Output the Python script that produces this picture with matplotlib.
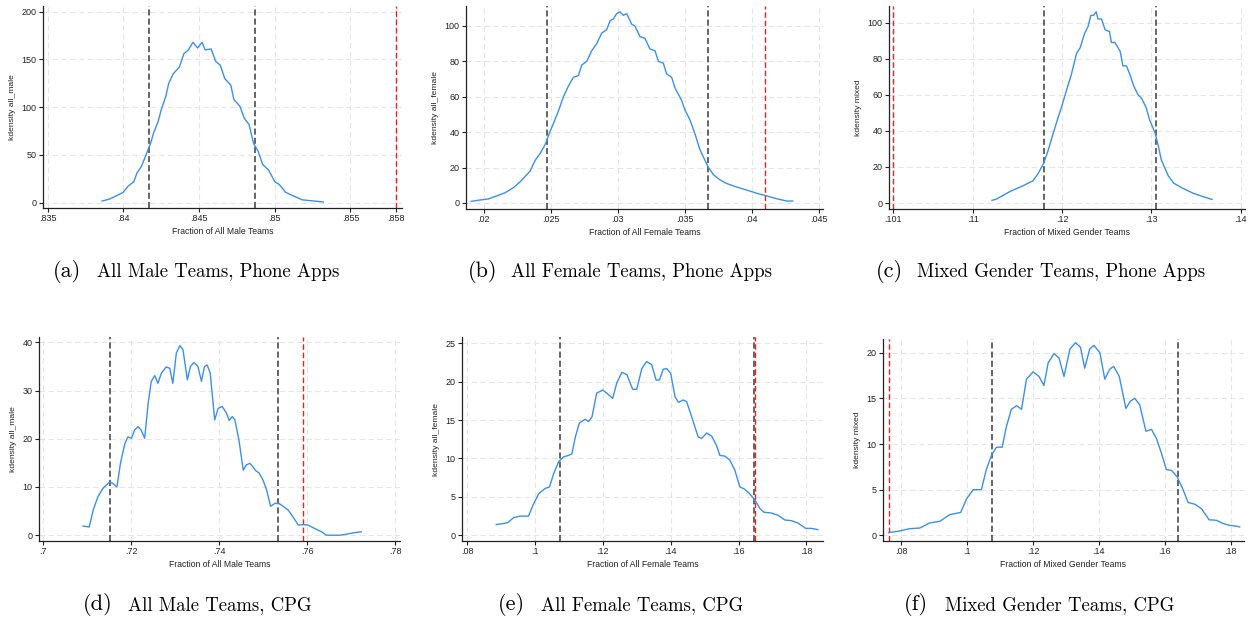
import numpy as np
import matplotlib.pyplot as plt

# kdensity curves
a_x = [.8386, .8391, .8397, .8400, .8403, .8407, .8409, .8412, .8416, .8418, .8420, .8423, .8425, .8428, .8430,
       .8433, .8437, .8440, .8443, .8446, .8449, .8452, .8454, .8458, .8461, .8464, .8467, .8471, .8473, .8477,
       .8480, .8483, .8486, .8489, .8492, .8496, .8500, .8503, .8507, .8511, .8518, .8524, .8532]
a_y = [1.7, 3.8, 8.4, 10.8, 17, 22, 31, 38, 54, 62, 73, 85, 97, 111, 125,
       135, 142, 156, 160, 168, 162, 168, 160, 161, 148, 144, 130, 123, 108, 101,
       88, 82, 62, 54, 40, 34, 22, 19, 11, 8, 3, 2, 0.7]

b_x = [.01908, .01975, .02037, .02099, .02161, .02223, .02273, .02347, .02384, .02421,
       .02459, .02483, .02521, .02558, .02595, .02632, .02669, .02707, .02732, .02769,
       .02806, .02843, .02881, .02918, .02943, .02968, .02992, .03017, .03042, .03067,
       .03104, .03128, .03166, .03203, .03240, .03278, .03303, .03340, .03364, .03402,
       .03427, .03476, .03501, .03538, .03576, .03613, .03651, .03676, .03713, .03763,
       .03812, .03887, .03961, .04036, .04110, .04185, .04259, .04304]
b_y = [0.9, 1.7, 2.3, 4, 5.8, 8.7, 12, 18, 24, 28,
       33, 38, 45, 52, 60, 66, 71, 72, 78, 80,
       86, 90, 96, 98, 103, 104, 107, 108, 106, 107,
       101, 100, 94, 93, 87, 86, 80, 79, 73, 71,
       65, 58, 52.5, 47, 39, 30, 24, 20, 16, 13,
       11, 9, 7.3, 5.5, 4, 2.4, 1.1, 1.1]

c_x = [.1121, .1126, .1134, .1141, .1149, .1156, .1164, .1167, .1173, .1179,
       .1184, .1190, .1195, .1199, .1205, .1210, .1216, .1220, .1225, .1229,
       .1232, .1235, .1238, .1240, .1244, .1248, .1253, .1255, .1259, .1265,
       .1268, .1272, .1276, .1280, .1285, .1289, .1294, .1298, .1304, .1308,
       .1311, .1319, .1325, .1336, .1347, .1358, .1368]
c_y = [1.5, 2.2, 4.4, 6.3, 8.1, 9.6, 11.6, 12.2, 16.5, 22,
       29, 39, 47, 53, 63, 71, 83, 86, 94, 98,
       104, 104, 106, 102, 102, 96, 95, 89, 89, 84,
       76, 76, 71, 65, 60, 58, 53, 46, 39, 31,
       24, 15, 11, 8, 5.4, 3.5, 2]

d_x = [.7091, .7105, .7114, .7125, .7136, .7152, .7159, .7168, .7176, .7186,
       .7193, .7201, .7208, .7216, .7223, .7231, .7239, .7246, .7254, .7261,
       .7269, .7280, .7288, .7295, .7303, .7311, .7318, .7328, .7335, .7343,
       .7352, .7360, .7367, .7373, .7380, .7390, .7398, .7407, .7417, .7423,
       .7430, .7436, .7445, .7455, .7462, .7470, .7477, .7483, .7491, .7500,
       .7508, .7517, .7527, .7536, .7547, .7557, .7568, .7580, .7591, .7602,
       .7617, .7633, .7644, .7659, .7674, .7689, .7705, .7723]
d_y = [1.9, 1.7, 5.2, 8, 9.7, 11.1, 10.7, 10, 14.9, 19,
       20.4, 20.1, 21.8, 22.5, 21.8, 20.1, 27.4, 31.9, 33.1, 31.5,
       33.6, 34.9, 34.6, 31.5, 37.8, 39.3, 38.5, 32.2, 35, 35.8,
       35, 31.9, 35, 35.3, 33.6, 23.9, 26.3, 26.7, 25.3, 23.8,
       24.6, 23.9, 19.8, 13.5, 14.6, 14.9, 14.2, 13.4, 12.9, 11.4,
       9.4, 6, 6.6, 6.6, 5.9, 5.2, 3.8, 2.1, 2.2, 2.1,
       1.4, 0.7, 0, 0, 0, 0.2, 0.5, 0.7]

e_x = [.0886, .0903, .0920, .0937, .0957, .0981, .0996, .1011, .1030, .1043,
       .1055, .1070, .1084, .1099, .1109, .1119, .1131, .1148, .1158, .1168,
       .1182, .1200, .1217, .1229, .1241, .1256, .1271, .1288, .1300, .1315,
       .1329, .1344, .1357, .1367, .1378, .1388, .1400, .1413, .1423, .1437,
       .1447, .1462, .1481, .1491, .1506, .1521, .1535, .1545, .1560, .1574,
       .1589, .1604, .1618, .1633, .1648, .1663, .1675, .1697, .1717, .1736,
       .1756, .1775, .1798, .1815, .1834]
e_y = [1.4, 1.5, 1.65, 2.3, 2.5, 2.5, 4.1, 5.4, 6.1, 6.3,
       8, 9.6, 10.2, 10.4, 10.6, 12.8, 14.6, 15.1, 14.8, 15.4,
       18.5, 18.9, 18.3, 17.8, 19.8, 21.2, 20.9, 19, 19, 21.7,
       22.6, 22.2, 20.2, 20.2, 21.6, 21.7, 21.1, 18, 17.3, 17.6,
       17.4, 15.4, 12.8, 12.6, 13.3, 12.9, 11.7, 10.4, 10.3, 9.8,
       8.5, 6.3, 6, 5.4, 4.6, 3.5, 3, 2.9, 2.6, 2,
       1.9, 1.6, 0.9, 0.9, 0.74]

f_x = [.0761, .0790, .0825, .0856, .0886, .0917, .0947, .0980, .0998, .1018,
       .1043, .1058, .1074, .1089, .1106, .1119, .1134, .1150, .1165, .1180,
       .1200, .1218, .1233, .1246, .1264, .1279, .1294, .1312, .1329, .1344,
       .1357, .1372, .1385, .1403, .1418, .1433, .1445, .1462, .1482, .1496,
       .1509, .1524, .1543, .1560, .1575, .1590, .1605, .1621, .1638, .1656,
       .1671, .1692, .1712, .1735, .1757, .1777, .1796, .1813, .1828]
f_y = [0.3, 0.44, 0.73, 0.8, 1.36, 1.54, 2.27, 2.5, 4, 5,
       5, 7.2, 8.8, 9.65, 9.65, 11.9, 13.8, 14.2, 13.8, 17.1,
       17.9, 17.4, 16.4, 18.9, 19.9, 19.4, 17.4, 20.4, 21.1, 20.6,
       18.3, 20.4, 20.8, 20, 17.1, 18.2, 18.5, 17.4, 13.9, 14.7,
       15, 14.3, 11.4, 11.6, 10.6, 9, 7.2, 7.1, 6.4, 5,
       3.6, 3.4, 2.9, 1.7, 1.65, 1.3, 1.1, 1.03, 0.92]

# dashed reference lines
ci_lines = [[.8417, .8487], [.02476, .0367], [.1179, .13048],
            [.7153, .7534], [.1074, .1646], [.1075, .1641]]
red_lines = [.858, .041, .101, .7591, .1648, .0762]

xticks = [[.835, .84, .845, .85, .855, .858],
          [.02, .025, .03, .035, .04, .045],
          [.101, .11, .12, .13, .14],
          [.7, .72, .74, .76, .78],
          [.08, .1, .12, .14, .16, .18],
          [.08, .1, .12, .14, .16, .18]]
yticks = [[0, 50, 100, 150, 200], [0, 20, 40, 60, 80, 100], [0, 20, 40, 60, 80, 100],
          [0, 10, 20, 30, 40], [0, 5, 10, 15, 20, 25], [0, 5, 10, 15, 20]]

xlabels = ["Fraction of All Male Teams", "Fraction of All Female Teams", "Fraction of Mixed Gender Teams"] * 2
ylabels = ["kdensity all_male", "kdensity all_female", "kdensity mixed"] * 2
letters = ["(a)", "(b)", "(c)", "(d)", "(e)", "(f)"]
captions = ["All Male Teams, Phone Apps", "All Female Teams, Phone Apps", "Mixed Gender Teams, Phone Apps",
            "All Male Teams, CPG", "All Female Teams, CPG", "Mixed Gender Teams, CPG"]

curves_x = [a_x, b_x, c_x, d_x, e_x, f_x]
curves_y = [a_y, b_y, c_y, d_y, e_y, f_y]

# layout (pixels): axes boxes, axis limits, caption anchors
boxes = [(43, 6, 402, 208), (466, 6, 823, 209), (889, 6, 1245, 209),
         (39, 337, 400, 541), (462, 337, 823, 541), (883, 339, 1244, 541)]
xlims = [(.8347, .8584), (.01869, .0453), (.10055, .1405), (.6991, .7811), (.0785, .1849), (.0744, .1841)]
ylims = [(-5.6, 206), (-3.4, 111.3), (-3.3, 109.2), (-1.2, 41.1), (-0.74, 25.8), (-0.62, 21.5)]
cap_pos = [(53, 97, 277), (468, 511, 277), (876, 917, 277),
           (83, 128, 610), (498, 541, 610), (904, 945, 610)]

W, H = 1259, 618
plt.rcParams['font.family'] = 'Liberation Sans'
fig = plt.figure(figsize=(W / 100, H / 100), dpi=100)


def stata_fmt(v):
    s = f"{v:g}"
    return s[1:] if s.startswith("0.") else s


for i in range(6):
    l, t, r, b = boxes[i]
    ax = fig.add_axes([l / W, 1 - b / H, (r - l) / W, (b - t) / H])
    ax.set_xlim(*xlims[i])
    ax.set_ylim(*ylims[i])
    ax.set_xticks(xticks[i])
    ax.set_xticklabels([stata_fmt(v) for v in xticks[i]])
    ax.set_yticks(yticks[i])
    ax.set_yticklabels([stata_fmt(v) for v in yticks[i]])
    ax.grid(True, color="#e6e6e6", linestyle=(0, (5, 3)), linewidth=0.8)
    ax.set_axisbelow(True)
    for s in ["top", "right"]:
        ax.spines[s].set_visible(False)
    for s in ["left", "bottom"]:
        ax.spines[s].set_linewidth(0.9)
        ax.spines[s].set_color("#222222")
    ax.tick_params(labelsize=6.5, length=3, width=0.8, pad=1.5, colors="#222222")
    ax.set_xlabel(xlabels[i], fontsize=6.2, labelpad=2.5, color="#222222")
    ax.set_ylabel(ylabels[i], fontsize=6.1, labelpad=4, color="#222222")

    ax.plot(curves_x[i], curves_y[i], color="#3a8ff0", linewidth=1.0, zorder=3)
    for v in ci_lines[i]:
        ax.axvline(v, color="#3a3a3a", linestyle=(0, (4, 2)), linewidth=1.1, zorder=2)
    ax.axvline(red_lines[i], color="#e8231c", linestyle=(0, (4, 2)), linewidth=1.0, zorder=2)

    lx, tx, by = cap_pos[i]
    fig.text(lx / W, 1 - by / H, letters[i], family="cmr10", fontsize=16, va="baseline", ha="left")
    fig.text(tx / W, 1 - by / H, captions[i], family="cmr10", fontsize=13.5, va="baseline", ha="left")

fig.savefig("out.png", dpi=100)
